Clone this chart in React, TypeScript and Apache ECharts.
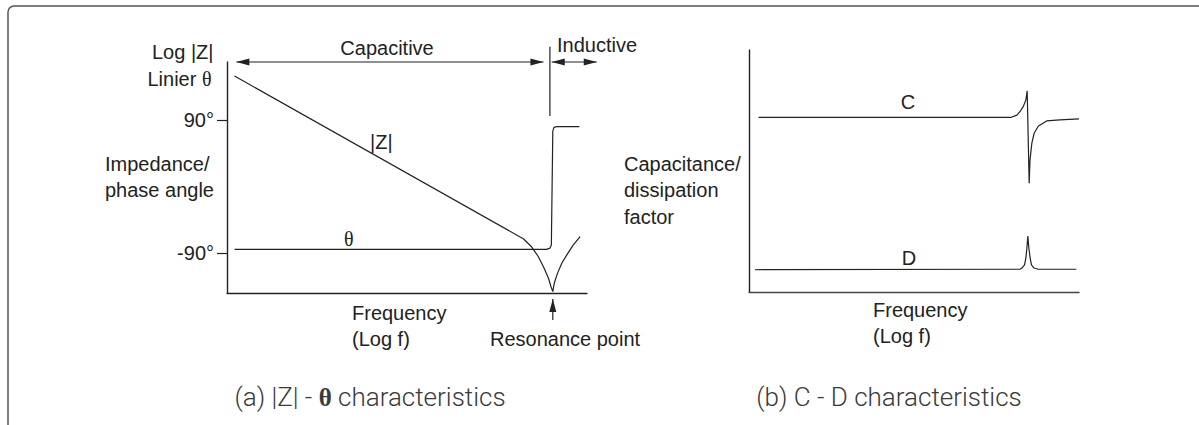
import React, { useEffect, useRef } from 'react';
import * as echarts from 'echarts';

// Panel (a): impedance |Z| and phase θ versus log frequency (generic 0..100 units)
const zCurve: number[][] = [
  [2.1, 93.9], [82.3, 23.5], [84.6, 20.0], [86.5, 15.7], [88.1, 10.7], [89.3, 6.4],
  [90.0, 2.7], [90.5, 0.6], [90.9, 4.2], [91.8, 8.5], [93.0, 12.9], [94.4, 16.5],
  [96.2, 20.8], [98.1, 24.4],
];
const thetaCurve: number[][] = [
  [2.1, 18.9], [88.8, 18.9], [89.7, 19.4], [90.1, 20.8], [90.5, 70.0], [90.8, 71.7],
  [91.6, 72.0], [97.9, 72.0],
];
const phaseTickValues = [17.3, 75];
const phaseTickLabels = ['-90°', '90°'];
// annotation lines: [x1, y1, x2, y2, headAtStart, headAtEnd]
const annotationsA: number[][] = [
  [2.6, 100, 87.9, 100, 1, 1],      // capacitive
  [90.2, 100, 102.7, 100, 1, 1],    // inductive
  [89.7, 76.6, 89.7, 106.6, 0, 0],  // divider
  [90.5, -11.7, 90.5, -2.6, 0, 1],  // resonance point
];

// Panel (b): capacitance C and dissipation factor D versus log frequency
const cCurve: number[][] = [
  [2.9, 72.2], [79.5, 72.2], [81.2, 73.1], [82.1, 74.5], [83.1, 76.6], [83.9, 79.3],
  [84.3, 83.1], [84.9, 44.9], [85.15, 54.5], [85.7, 61.4], [86.4, 65.6], [87.7, 68.6],
  [90.2, 70.7], [94.2, 71.1], [100, 71.5],
];
const dCurve: number[][] = [
  [1.8, 9.2], [82.1, 9.4], [82.7, 9.9], [83.5, 11.2], [83.9, 14.0], [84.2, 18.2],
  [84.5, 23.1], [84.8, 18.2], [85.2, 14.0], [85.6, 11.2], [86.4, 9.9], [87.6, 9.4],
  [99.2, 9.4],
];

const INK = '#222';
const CAPTION = '#3a3a3a';
const FONT = 'Liberation Sans, Arial, sans-serif';
const SERIF = 'Liberation Serif, Times New Roman, serif';

function txt(text: string, x: number, y: number, align: string = 'left', extra: any = {}) {
  return {
    type: 'text', x, y, silent: true,
    style: {
      text, fill: INK, fontSize: 20, fontFamily: FONT, align, verticalAlign: 'middle',
      rich: { t: { fontFamily: SERIF, fontSize: 20, fill: INK } },
      ...extra,
    },
  };
}

const captionStyle = {
  fontFamily: 'Roboto, sans-serif', fontWeight: 300, fontSize: 26, fill: CAPTION,
  rich: { t: { fontFamily: SERIF, fontSize: 25, fontWeight: 'bold', fill: CAPTION } },
};

export default function App() {
  const ref = useRef<HTMLDivElement>(null);
  useEffect(() => {
    if (!ref.current) return;
    const chart = echarts.init(ref.current, undefined, { renderer: 'svg' });
    const axisLine = { show: true, onZero: false, lineStyle: { color: INK, width: 1.4 } };
    const hiddenAxis = (grid: number) => ({
      gridIndex: grid, type: 'value', min: 0, max: 100,
      axisLine, axisTick: { show: false }, axisLabel: { show: false }, splitLine: { show: false },
    });
    const lineSeries = (data: number[][], axis: number) => ({
      type: 'line', data, xAxisIndex: axis, yAxisIndex: axis, symbol: 'none', silent: true,
      clip: false, lineStyle: { color: INK, width: 1.2 },
    });
    const renderAnn = (params: any, api: any) => {
      const p1 = api.coord([api.value(0), api.value(1)]);
      const p2 = api.coord([api.value(2), api.value(3)]);
      const children: any[] = [{
        type: 'line', shape: { x1: p1[0], y1: p1[1], x2: p2[0], y2: p2[1] },
        style: { stroke: INK, lineWidth: 1.2 },
      }];
      const head = (tip: number[], from: number[]) => {
        const dx = tip[0] - from[0], dy = tip[1] - from[1];
        const L = Math.hypot(dx, dy) || 1;
        const ux = dx / L, uy = dy / L;
        const bx = tip[0] - ux * 13, by = tip[1] - uy * 13;
        return {
          type: 'polygon',
          shape: { points: [[tip[0], tip[1]], [bx - uy * 3.5, by + ux * 3.5], [bx + uy * 3.5, by - ux * 3.5]] },
          style: { fill: INK },
        };
      };
      if (api.value(4)) children.push(head(p1, p2));
      if (api.value(5)) children.push(head(p2, p1));
      return { type: 'group', children };
    };
    chart.setOption({
      animation: false,
      backgroundColor: '#fff',
      grid: [
        { left: 227, top: 62, width: 360, height: 231, outerBoundsMode: 'none' },
        { left: 749, top: 50, width: 330, height: 242, outerBoundsMode: 'none' },
      ],
      xAxis: [hiddenAxis(0), { ...hiddenAxis(1), axisLine: { ...axisLine, lineStyle: { color: '#444', width: 1.4 } } }],
      yAxis: [
        {
          ...hiddenAxis(0),
          axisTick: { show: true, length: 10, customValues: phaseTickValues, lineStyle: { color: INK, width: 1.2 } },
          axisLabel: {
            show: true, customValues: phaseTickValues, margin: 13, fontSize: 20, fontFamily: FONT, color: INK,
            padding: [8, 0, 0, 0],
            formatter: (v: number) => {
              let best = 0;
              phaseTickValues.forEach((t, i) => { if (Math.abs(t - v) < Math.abs(phaseTickValues[best] - v)) best = i; });
              return phaseTickLabels[best];
            },
          },
        },
        hiddenAxis(1),
      ],
      series: [
        lineSeries(zCurve, 0),
        lineSeries(thetaCurve, 0),
        lineSeries(cCurve, 1),
        lineSeries(dCurve, 1),
        {
          type: 'custom', xAxisIndex: 0, yAxisIndex: 0, data: annotationsA, clip: false, silent: true,
          renderItem: renderAnn,
        },
      ],
      graphic: [
        {
          type: 'rect', silent: true, shape: { x: 8, y: 6, width: 1400, height: 600, r: 6 },
          style: { fill: 'none', stroke: '#555', lineWidth: 1.5 },
        },
        txt('Log |Z|', 213.5, 52, 'right'),
        txt('Linier {t|θ}', 211.5, 79, 'right'),
        txt('Impedance/', 105, 164),
        txt('phase angle', 105, 190),
        txt('|Z|', 370, 142),
        txt('{t|θ}', 344, 239),
        txt('Capacitive', 387, 48, 'center'),
        txt('Inductive', 557, 45),
        txt('Frequency', 352, 313),
        txt('(Log f)', 352, 339),
        txt('Resonance point', 490, 339),
        txt('(a) |Z| - {t|θ} characteristics', 370, 397, 'center', captionStyle),
        txt('C', 908, 102, 'center'),
        txt('D', 909, 258, 'center'),
        txt('Capacitance/', 624, 164),
        txt('dissipation', 624, 190),
        txt('factor', 624, 217),
        txt('Frequency', 873, 310),
        txt('(Log f)', 873, 336),
        txt('(b) C - D characteristics', 889, 397, 'center', captionStyle),
      ],
    });
    return () => chart.dispose();
  }, []);
  return <div ref={ref} style={{ position: 'absolute', left: 0, top: 0, width: 1199, height: 425 }} />;
}
